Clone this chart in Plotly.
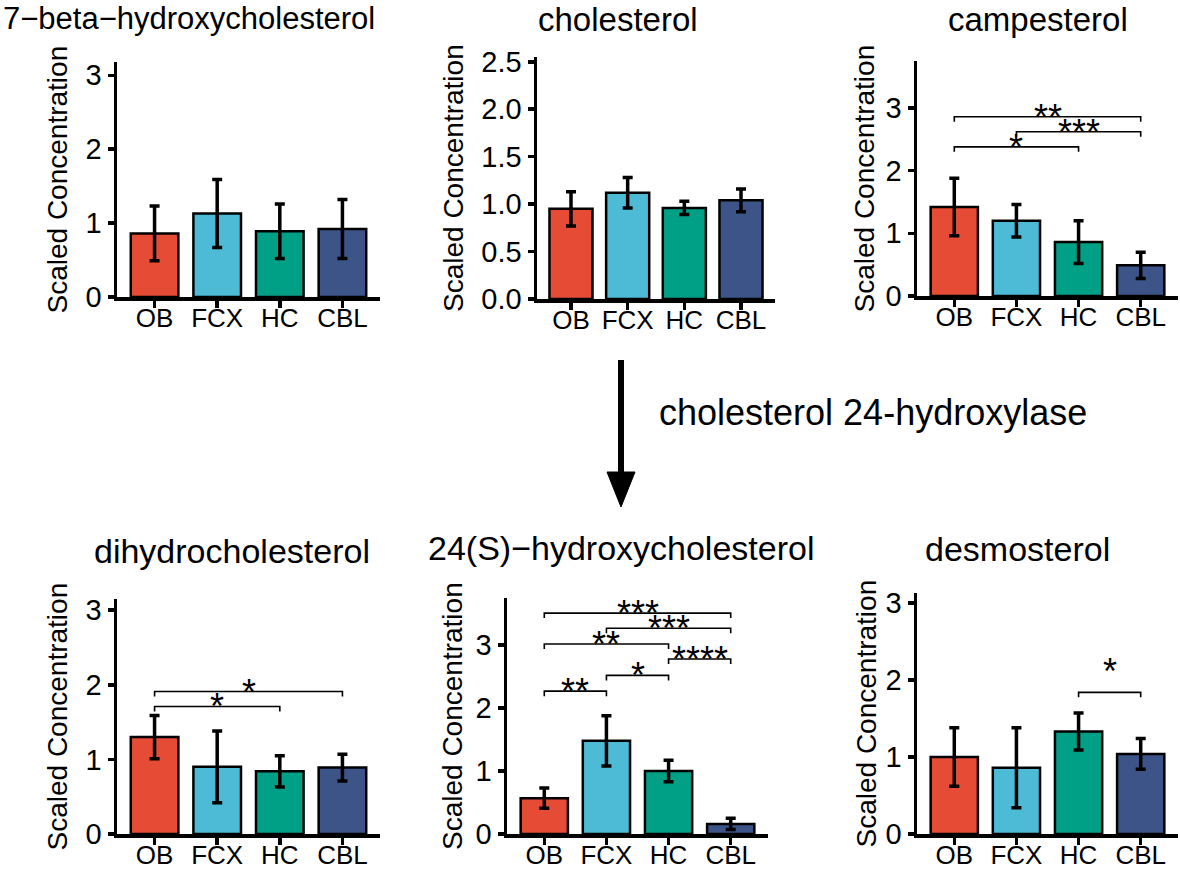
import plotly.graph_objects as go

W, H = 1180, 871
FONT = "Liberation Sans, Arial, Helvetica, sans-serif"

categories = ["OB", "FCX", "HC", "CBL"]
colors = ["#E64B35", "#4DBBD5", "#00A087", "#3C5488"]

titles = ["7−beta−hydroxycholesterol", "cholesterol", "campesterol",
          "dihydrocholesterol", "24(S)−hydroxycholesterol", "desmosterol"]

# mean scaled concentration and error per region (OB, FCX, HC, CBL)
beta7_mean = [0.86, 1.13, 0.89, 0.92]
beta7_err = [0.37, 0.46, 0.37, 0.40]
chol_mean = [0.95, 1.12, 0.96, 1.04]
chol_err = [0.18, 0.16, 0.07, 0.12]
camp_mean = [1.42, 1.20, 0.86, 0.49]
camp_err = [0.46, 0.26, 0.34, 0.21]
dihydro_mean = [1.30, 0.90, 0.84, 0.89]
dihydro_err = [0.29, 0.48, 0.21, 0.18]
s24_mean = [0.57, 1.48, 1.00, 0.16]
s24_err = [0.16, 0.40, 0.17, 0.09]
desmo_mean = [1.00, 0.86, 1.33, 1.04]
desmo_err = [0.38, 0.52, 0.24, 0.20]

# significance comparisons: (group i, group j, bracket level, label)
beta7_sig = []
chol_sig = []
camp_sig = [(0, 3, 2.86, "**"), (1, 3, 2.62, "***"), (0, 2, 2.38, "*")]
dihydro_sig = [(0, 3, 1.91, "*"), (0, 2, 1.71, "*")]
s24_sig = [(0, 3, 3.51, "***"), (1, 3, 3.27, "***"), (0, 2, 3.02, "**"),
           (2, 3, 2.78, "****"), (1, 2, 2.52, "*"), (0, 1, 2.27, "**")]
desmo_sig = [(2, 3, 1.84, "*")]

y_max = [3.18, 2.55, 3.75, 3.15, 3.75, 3.13]
y_ticks_int = [0, 1, 2, 3]
y_ticks_half = [0, 0.5, 1.0, 1.5, 2.0, 2.5]

means = [beta7_mean, chol_mean, camp_mean, dihydro_mean, s24_mean, desmo_mean]
errs = [beta7_err, chol_err, camp_err, dihydro_err, s24_err, desmo_err]
sigs = [beta7_sig, chol_sig, camp_sig, dihydro_sig, s24_sig, desmo_sig]
yticks = [y_ticks_int, y_ticks_half, y_ticks_int, y_ticks_int, y_ticks_int, y_ticks_int]

# layout (pixel boxes: left, right, top, bottom)
boxes = [(117, 380, 62, 297), (537, 775, 57, 299), (917, 1178, 61, 296),
         (117, 380, 599, 834), (507, 768, 598, 834), (917, 1178, 593, 834)]
title_pos = [(189, 18, 31), (618, 19, 33), (1038, 19, 33),
             (232, 551, 34), (621, 548, 34), (1017, 549, 34)]
ytitle_x = [57, 453, 864, 57, 452, 866]
star_shift = [-23, -23, -23, -23, -23, -2]

fig = go.Figure()
annotations = []
layout = {}

for k in range(6):
    sfx = "" if k == 0 else str(k + 1)
    xa, ya = "x" + sfx, "y" + sfx
    l, r, t, b = boxes[k]
    fig.add_trace(go.Bar(
        x=list(range(len(categories))), y=means[k],
        error_y=dict(type="data", array=errs[k], visible=True,
                     color="black", thickness=3.5, width=5),
        marker=dict(color=colors, line=dict(color="black", width=2.5)),
        width=0.76, xaxis=xa, yaxis=ya, showlegend=False, hoverinfo="skip"))

    tip = 5 / (b - t) * y_max[k]
    for (i, j, lev, lab) in sigs[k]:
        fig.add_trace(go.Scatter(
            x=[i, i, j, j], y=[lev - tip, lev, lev, lev - tip], mode="lines",
            line=dict(color="black", width=1.6), xaxis=xa, yaxis=ya,
            showlegend=False, hoverinfo="skip"))
        annotations.append(dict(
            x=(i + j) / 2, y=lev, xref=xa, yref=ya, text=lab, showarrow=False,
            xanchor="center", yanchor="bottom", yshift=star_shift[k],
            font=dict(family=FONT, size=36, color="black")))

    layout["xaxis" + sfx] = dict(
        domain=[l / W, r / W], range=[-0.6, 3.6], anchor=ya, automargin=False,
        tickmode="array", tickvals=list(range(len(categories))), ticktext=categories,
        showline=True, linecolor="black", linewidth=3.5,
        ticks="outside", ticklen=7, tickwidth=3.5, tickcolor="black",
        ticklabelstandoff=-12,
        showgrid=False, zeroline=False, fixedrange=True,
        tickfont=dict(family=FONT, size=26, color="black"))
    layout["yaxis" + sfx] = dict(
        domain=[1 - b / H, 1 - t / H], range=[0, y_max[k]], anchor=xa, automargin=False,
        tickmode="array", tickvals=yticks[k],
        tickformat=".1f" if k == 1 else "d",
        showline=True, linecolor="black", linewidth=3.5,
        ticks="outside", ticklen=6, tickwidth=3.5, tickcolor="black",
        showgrid=False, zeroline=False, fixedrange=True,
        tickfont=dict(family=FONT, size=29, color="black"))

    cx, cy, fs = title_pos[k]
    annotations.append(dict(
        x=cx / W, y=1 - cy / H, xref="paper", yref="paper", text=titles[k],
        showarrow=False, xanchor="center", yanchor="middle",
        font=dict(family=FONT, size=fs, color="black")))
    annotations.append(dict(
        x=ytitle_x[k] / W, y=1 - (t + b) / 2 / H, xref="paper", yref="paper",
        text="Scaled Concentration", textangle=-90, showarrow=False,
        xanchor="center", yanchor="middle",
        font=dict(family=FONT, size=28, color="black")))

annotations.append(dict(
    x=873 / W, y=1 - 412 / H, xref="paper", yref="paper",
    text="cholesterol 24-hydroxylase", showarrow=False,
    xanchor="center", yanchor="middle",
    font=dict(family=FONT, size=36, color="black")))

shapes = [
    dict(type="line", xref="paper", yref="paper",
         x0=621 / W, x1=621 / W, y0=1 - 360 / H, y1=1 - 476 / H,
         line=dict(color="black", width=6)),
    dict(type="path", xref="paper", yref="paper",
         path="M %f,%f L %f,%f L %f,%f Z" % (607 / W, 1 - 472 / H, 635 / W, 1 - 472 / H,
                                            621 / W, 1 - 507 / H),
         fillcolor="black", line=dict(color="black", width=1)),
]

fig.update_layout(
    width=W, height=H, margin=dict(l=0, r=0, t=0, b=0, autoexpand=False),
    paper_bgcolor="white", plot_bgcolor="white",
    font=dict(family=FONT, color="black"),
    annotations=annotations, shapes=shapes, bargap=0.2, showlegend=False,
    **layout)

fig.write_html(
    "out.html",
    config={"displayModeBar": False, "staticPlot": True},
    post_script="document.body.style.margin='0px';document.body.style.padding='0px';"
                "document.body.style.overflow='hidden';")
